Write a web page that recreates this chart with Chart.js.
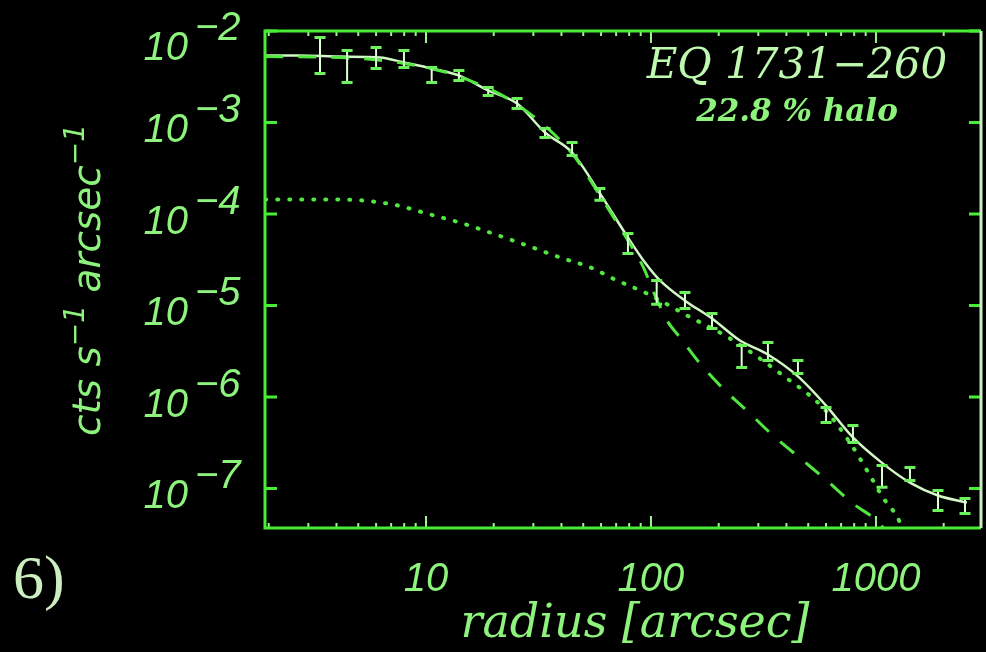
<!DOCTYPE html>
<html>
<head>
<meta charset="utf-8">
<script src="https://cdn.jsdelivr.net/npm/chart.js@4.4.1/dist/chart.umd.min.js"></script>
<style>
  html, body { margin: 0; padding: 0; background: #000; }
  canvas { display: block; }
</style>
</head>
<body>
<canvas id="profile" width="986" height="652"></canvas>
<script>
// Radial surface-brightness profile of EQ 1731-260 (cts s^-1 arcsec^-2 vs radius)

// Measured profile: radius [arcsec], brightness and its error range
const radius   = [3.38, 4.46, 6.0, 7.98, 10.6, 14.0, 18.9, 25.4, 33.8, 44.6, 59.3, 79.0,
                  106, 141.6, 186.7, 253, 331, 450, 600, 790, 1064, 1416, 1887, 2488];
const flux     = [5.40e-3, 4.09e-3, 5.07e-3, 4.94e-3, 3.30e-3, 3.27e-3, 2.18e-3, 1.61e-3,
                  7.68e-4, 5.13e-4, 1.63e-4, 4.76e-5, 1.39e-5, 1.13e-5, 6.77e-6, 2.77e-6,
                  3.14e-6, 2.13e-6, 6.35e-7, 3.94e-7, 1.35e-7, 1.44e-7, 7.40e-8, 6.44e-8];
const fluxLow  = [3.43e-3, 2.74e-3, 3.89e-3, 3.99e-3, 2.74e-3, 2.88e-3, 1.97e-3, 1.42e-3,
                  6.85e-4, 4.36e-4, 1.41e-4, 3.70e-5, 1.03e-5, 9.27e-6, 5.61e-6, 2.10e-6,
                  2.51e-6, 1.81e-6, 5.26e-7, 3.18e-7, 1.03e-7, 1.22e-7, 5.75e-8, 5.33e-8];
const fluxHigh = [8.49e-3, 6.12e-3, 6.61e-3, 6.12e-3, 3.99e-3, 3.70e-3, 2.42e-3, 1.83e-3,
                  8.60e-4, 6.04e-4, 1.90e-4, 6.12e-5, 1.88e-5, 1.39e-5, 8.18e-6, 3.66e-6,
                  3.94e-6, 2.51e-6, 7.67e-7, 4.89e-7, 1.78e-7, 1.70e-7, 9.51e-8, 7.78e-8];

// Total model (point source + halo)
const totalR    = [1.93, 2.75, 4.15, 6.25, 7.98, 10.6, 14.0, 18.9, 25.4, 33.8, 44.6, 59.3, 79.0,
                   94.0, 109.6, 141.6, 186.7, 248.6, 327.8, 450, 600, 790, 1074, 1416, 1887, 2537];
const totalFlux = [5.40e-3, 5.40e-3, 5.26e-3, 5.13e-3, 4.53e-3, 3.89e-3, 3.27e-3, 2.24e-3, 1.61e-3,
                   7.78e-4, 4.70e-4, 1.68e-4, 5.53e-5, 2.95e-5, 1.88e-5, 1.13e-5, 7.21e-6, 4.14e-6,
                   2.95e-6, 1.68e-6, 8.05e-7, 3.61e-7, 1.87e-7, 1.16e-7, 8.38e-8, 7.03e-8];

// Point-source (PSF) component
const coreR    = [1.93, 4.15, 7.98, 14.0, 25.4, 44.6, 59.3, 79.0, 92.1, 104.2, 117.8, 134.6,
                  165.2, 208.9, 275.4, 348.5, 474, 605, 790, 1042, 1086];
const coreFlux = [5.26e-3, 5.13e-3, 4.42e-3, 3.18e-3, 1.57e-3, 4.58e-4, 1.59e-4, 5.13e-5, 2.67e-5,
                  1.29e-5, 6.85e-6, 4.47e-6, 2.32e-6, 1.24e-6, 6.60e-7, 3.80e-7, 2.02e-7, 1.22e-7,
                  6.85e-8, 4.14e-8, 3.6e-8];

// Dust-scattering halo component
const haloR    = [1.93, 4.15, 7.13, 10.1, 14.1, 19.8, 28.1, 39.4, 55.2, 67.7, 96.0, 144.5,
                  224.5, 386, 581, 766, 940, 1074, 1240, 1318];
const haloFlux = [1.44e-4, 1.44e-4, 1.27e-4, 1.01e-4, 8.07e-5, 6.12e-5, 4.53e-5, 3.35e-5, 2.54e-5,
                  1.97e-5, 1.35e-5, 7.78e-6, 4.36e-6, 1.72e-6, 7.67e-7, 3.18e-7, 1.39e-7, 7.98e-8,
                  4.94e-8, 3.6e-8];

// Axis ranges and labelled ticks
const xRange = [1.925, 2930];
const yRange = [3.70e-8, 1e-2];
const xTickLabels = [10, 100, 1000];
const yTickExponents = [-2, -3, -4, -5, -6, -7];

const GREEN = '#48ee36';
const TEXT_GREEN = '#8ef37c';
const PALE = '#dcffd2';

const toPoints = (xs, ys) => xs.map((v, i) => ({ x: v, y: ys[i] }));

// Error bars (I-shapes) drawn through the chart's own scales
const errorBars = {
  id: 'errorBars',
  afterDatasetsDraw(chart) {
    const { ctx, scales: { x, y } } = chart;
    ctx.save();
    radius.forEach((r, i) => {
      const px = x.getPixelForValue(r);
      const yTop = y.getPixelForValue(fluxHigh[i]);
      const yBot = y.getPixelForValue(fluxLow[i]);
      ctx.strokeStyle = PALE;
      ctx.lineWidth = 2;
      ctx.beginPath();
      ctx.moveTo(px, yTop); ctx.lineTo(px, yBot);
      ctx.stroke();
      ctx.strokeStyle = '#6cf25a';
      ctx.lineWidth = 3;
      ctx.beginPath();
      ctx.moveTo(px - 5.5, yTop); ctx.lineTo(px + 5.5, yTop);
      ctx.moveTo(px - 5.5, yBot); ctx.lineTo(px + 5.5, yBot);
      ctx.stroke();
    });
    ctx.restore();
  }
};

// Text helpers for pieces with optional superscript
function drawPieces(ctx, pieces, x0, baseline, size, family) {
  let x = x0;
  pieces.forEach(p => {
    const s = p.sup ? size * 0.72 : size;
    ctx.font = `italic ${s}px ${family}`;
    ctx.fillText(p.t, x, p.sup ? baseline - size * 0.42 : baseline);
    x += ctx.measureText(p.t).width;
  });
}
function piecesWidth(ctx, pieces, size, family) {
  let w = 0;
  pieces.forEach(p => {
    const s = p.sup ? size * 0.72 : size;
    ctx.font = `italic ${s}px ${family}`;
    w += ctx.measureText(p.t).width;
  });
  return w;
}

// Frame, inward ticks, tick labels, titles and annotations
const frame = {
  id: 'frame',
  beforeDraw(chart) {
    const { ctx, width, height } = chart;
    ctx.save();
    ctx.fillStyle = '#000';
    ctx.fillRect(0, 0, width, height);
    ctx.restore();
  },
  afterDraw(chart) {
    const { ctx, chartArea: a, scales: { x, y } } = chart;
    ctx.save();
    ctx.lineCap = 'butt';

    // x ticks, top and bottom, minor at 2..9 of each decade
    ctx.strokeStyle = '#9ff28f';
    ctx.lineWidth = 2;
    ctx.beginPath();
    for (let d = 0; d <= 3; d++) {
      for (let m = 1; m <= 9; m++) {
        const v = m * Math.pow(10, d);
        if (v < xRange[0] || v > xRange[1]) continue;
        const px = x.getPixelForValue(v);
        const len = m === 1 ? 12 : 5;
        ctx.moveTo(px, a.bottom); ctx.lineTo(px, a.bottom - len);
        ctx.moveTo(px, a.top); ctx.lineTo(px, a.top + len);
      }
    }
    ctx.stroke();

    // y ticks at each decade, both sides
    ctx.strokeStyle = GREEN;
    ctx.lineWidth = 3;
    ctx.beginPath();
    yTickExponents.forEach(e => {
      const py = y.getPixelForValue(Math.pow(10, e));
      ctx.moveTo(a.left, py); ctx.lineTo(a.left + 12, py);
      ctx.moveTo(a.right, py); ctx.lineTo(a.right - 12, py);
    });
    ctx.stroke();

    // plot box
    ctx.lineWidth = 3;
    ctx.strokeStyle = GREEN;
    ctx.beginPath();
    ctx.moveTo(a.right, a.top); ctx.lineTo(a.left, a.top);
    ctx.lineTo(a.left, a.bottom); ctx.lineTo(a.right, a.bottom);
    ctx.stroke();
    ctx.strokeStyle = '#c9efc0';
    ctx.beginPath();
    ctx.moveTo(a.right, a.top); ctx.lineTo(a.right, a.bottom);
    ctx.stroke();

    ctx.fillStyle = TEXT_GREEN;
    ctx.textBaseline = 'alphabetic';

    // y tick labels: 10 with raised exponent
    const tickFont = '"Liberation Sans", Arial, sans-serif';
    yTickExponents.forEach(e => {
      const py = y.getPixelForValue(Math.pow(10, e));
      // keep the topmost label clear of the canvas edge
      const base = Math.max(py + 20, 60);
      ctx.font = `italic 40px ${tickFont}`;
      ctx.textAlign = 'right';
      ctx.fillText('10', 188, base);
      ctx.textAlign = 'left';
      ctx.fillText('\u2212' + Math.abs(e), 195, base - 20);
    });

    // x tick labels
    ctx.font = `italic 40px ${tickFont}`;
    ctx.textAlign = 'center';
    xTickLabels.forEach(v => {
      ctx.fillText(String(v), x.getPixelForValue(v), 591);
    });

    // x axis title
    ctx.font = 'italic 46px "DejaVu Serif", serif';
    ctx.fillText('radius [arcsec]', 635, 637);

    // y axis title, rotated
    const yFam = '"DejaVu Sans", sans-serif';
    const yPieces = [
      { t: 'cts s', sup: false }, { t: '\u22121', sup: true },
      { t: ' arcsec', sup: false }, { t: '\u22121', sup: true }
    ];
    ctx.save();
    ctx.translate(100, 280);
    ctx.rotate(-Math.PI / 2);
    ctx.textAlign = 'left';
    const w = piecesWidth(ctx, yPieces, 39, yFam);
    drawPieces(ctx, yPieces, -w / 2, 0, 39, yFam);
    ctx.restore();

    // source annotation
    ctx.textAlign = 'center';
    ctx.fillStyle = '#bff9b0';
    ctx.font = 'italic 42px "DejaVu Serif", serif';
    ctx.fillText('EQ 1731\u2212260', 797, 78);
    ctx.fillStyle = TEXT_GREEN;
    ctx.font = 'italic bold 31px "DejaVu Serif", serif';
    ctx.fillText('22.8 % halo', 797, 121);

    // panel number
    ctx.textAlign = 'left';
    ctx.fillStyle = '#cdeec0';
    ctx.font = '62px "Liberation Serif", "Times New Roman", serif';
    ctx.fillText('6)', 13, 598);

    ctx.restore();
  }
};

new Chart(document.getElementById('profile'), {
  type: 'line',
  data: {
    datasets: [
      {
        label: 'halo',
        data: toPoints(haloR, haloFlux),
        borderColor: '#52e640',
        borderWidth: 4,
        borderDash: [1, 11],
        borderCapStyle: 'round',
        cubicInterpolationMode: 'monotone',
        pointRadius: 0
      },
      {
        label: 'point source',
        data: toPoints(coreR, coreFlux),
        borderColor: '#52e640',
        borderWidth: 3,
        borderDash: [18, 15],
        cubicInterpolationMode: 'monotone',
        pointRadius: 0
      },
      {
        label: 'total',
        data: toPoints(totalR, totalFlux),
        borderColor: '#d2f8c6',
        borderWidth: 2.5,
        cubicInterpolationMode: 'monotone',
        pointRadius: 0
      },
      {
        label: 'data',
        data: toPoints(radius, flux),
        showLine: false,
        pointRadius: 0
      }
    ]
  },
  options: {
    responsive: false,
    animation: false,
    events: [],
    layout: { padding: { left: 265, top: 31, right: 5, bottom: 124 } },
    plugins: { legend: { display: false }, tooltip: { enabled: false } },
    scales: {
      x: { type: 'logarithmic', min: xRange[0], max: xRange[1], display: false },
      y: { type: 'logarithmic', min: yRange[0], max: yRange[1], display: false }
    }
  },
  plugins: [frame, errorBars]
});
</script>
</body>
</html>
